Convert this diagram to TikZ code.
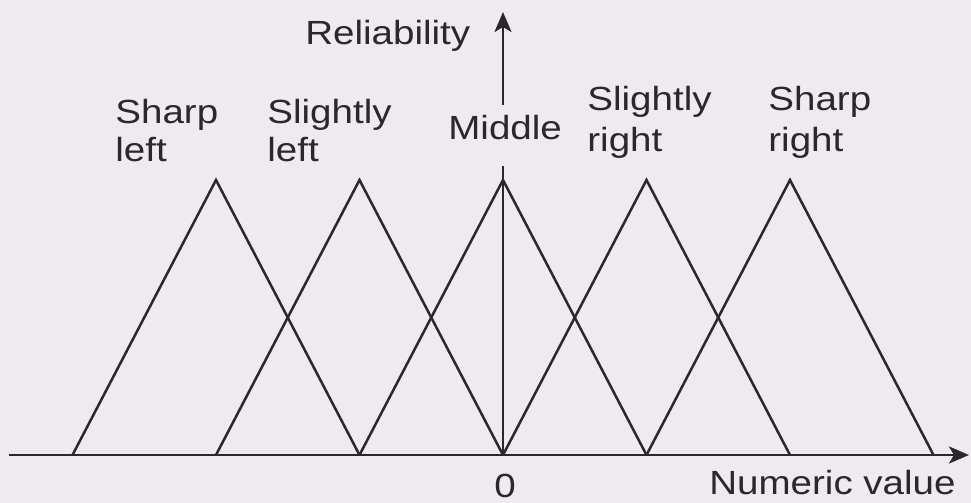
\documentclass[tikz,border=0pt]{standalone}
\usepackage{fontspec}
\setmainfont{Liberation Sans}[FakeStretch=1.15]
\usetikzlibrary{arrows.meta}
\definecolor{bg}{RGB}{237,235,239}
\definecolor{ink}{RGB}{42,40,46}
\begin{document}
\begin{tikzpicture}[x=0.5pt,y=-0.5pt,
  lbl/.style={font=\fontsize{16.75pt}{19.5pt}\selectfont, text=ink, inner sep=0pt, anchor=base west},
  tri/.style={draw=ink, line width=1.25pt},
  axis/.style={draw=ink, line width=1.25pt},
  tip/.style={-{Stealth[length=10pt,width=8.5pt,inset=2.5pt]}}]
\fill[bg] (0,0) rectangle (971,503);
\useasboundingbox (0,0) rectangle (971,503);
% axes
\coordinate (hs) at (9,455);
\coordinate (he) at (969,455);
\coordinate (o) at (503,455);
\coordinate (vlow) at (503,166);
\coordinate (vhigh) at (503,105);
\coordinate (vtop) at (503,12);
\draw[axis,tip] (hs) -- (he);
\draw[axis] (o) -- (vlow);
\draw[axis,tip] (vhigh) -- (vtop);
% triangles
\foreach \c/\n in {216/a,359.5/b,503/c,646.5/d,790/e}{
  \coordinate (\n L) at (\c-143.5,455);
  \coordinate (\n P) at (\c,180);
  \coordinate (\n R) at (\c+143.5,455);
  \draw[tri] (\n L) -- (\n P) -- (\n R);
}
% labels
\node[lbl] (rel) at (305,44) {Reliability};
\node[lbl] (sl1) at (115,123) {Sharp};
\node[lbl] (sl2) at (115,162) {left};
\node[lbl] (gl1) at (267,123) {Slightly};
\node[lbl] (gl2) at (267,162) {left};
\node[lbl] (mid) at (448,140) {Middle};
\node[lbl] (gr1) at (587,111) {Slightly};
\node[lbl] (gr2) at (587,151) {right};
\node[lbl] (sr1) at (768,111) {Sharp};
\node[lbl] (sr2) at (768,151) {right};
\node[lbl,anchor=base] (zero) at (505,497) {0};
\node[lbl] (num) at (709,494) {Numeric value};
\end{tikzpicture}
\end{document}
